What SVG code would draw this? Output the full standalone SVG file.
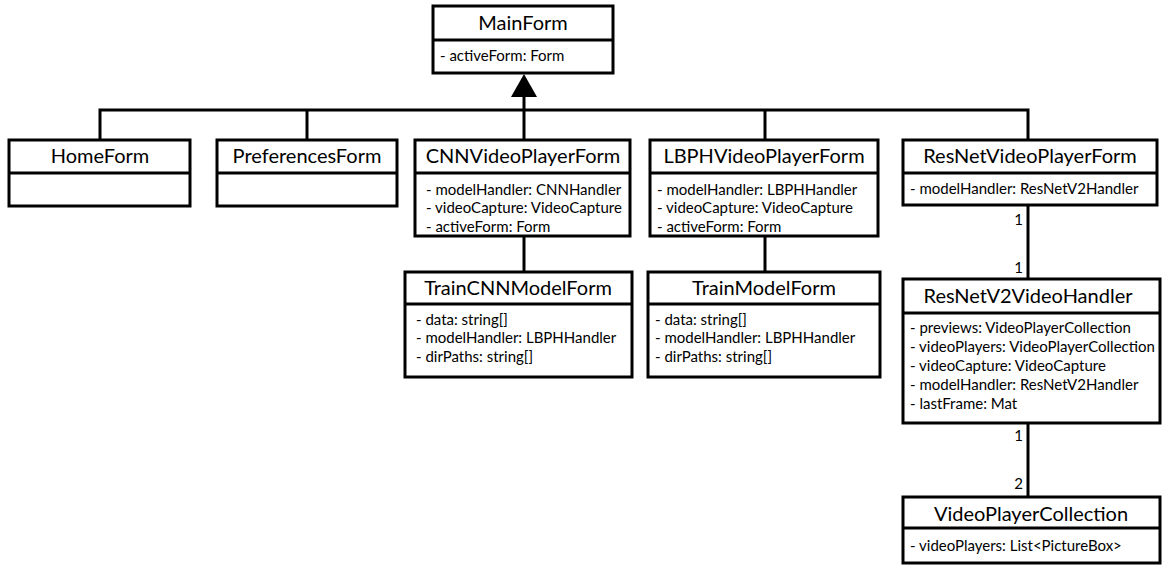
<svg xmlns="http://www.w3.org/2000/svg" width="1174" height="565" viewBox="0 0 1174 565">
<style>
.box{fill:#fff;stroke:#000;stroke-width:3}
.div{stroke:#000;stroke-width:3}
.t{font-family:Lato,"Noto Sans",sans-serif;font-size:20px;text-anchor:middle;fill:#000}
.a{font-family:Lato,"Noto Sans",sans-serif;font-size:15px;fill:#000}
.m{font-family:Lato,"Noto Sans",sans-serif;font-size:15px;text-anchor:end;fill:#000}
.c{stroke:#000;stroke-width:3;fill:none}
</style>
<g id="connectors">
<polyline class="c" points="100,140 100,110 1028,110 1028,140"/>
<line class="c" x1="307" y1="110" x2="307" y2="140"/>
<line class="c" x1="524" y1="96" x2="524" y2="140"/>
<line class="c" x1="765" y1="110" x2="765" y2="140"/>
<polygon points="524,74 511,97 537,97" fill="#000"/>
<line class="c" x1="524" y1="236" x2="524" y2="272"/>
<line class="c" x1="765" y1="236" x2="765" y2="272"/>
<line class="c" x1="1028" y1="205" x2="1028" y2="279"/>
<line class="c" x1="1028" y1="423" x2="1028" y2="497"/>
<text class="m" x="1023" y="225">1</text>
<text class="m" x="1023" y="273">1</text>
<text class="m" x="1023" y="441">1</text>
<text class="m" x="1023" y="489">2</text>
</g>
<g id="MainForm">
<rect class="box" x="433" y="6" width="180" height="67"/>
<line class="div" x1="433" y1="40" x2="613" y2="40"/>
<text class="t" x="523" y="30">MainForm</text>
<text class="a" x="440" y="61">- activeForm: Form</text>
</g>
<g id="HomeForm">
<rect class="box" x="9" y="140" width="181" height="66"/>
<line class="div" x1="9" y1="173" x2="190" y2="173"/>
<text class="t" x="100" y="163">HomeForm</text>
</g>
<g id="PreferencesForm">
<rect class="box" x="217" y="140" width="180" height="66"/>
<line class="div" x1="217" y1="173" x2="397" y2="173"/>
<text class="t" x="307" y="163">PreferencesForm</text>
</g>
<g id="CNNVideoPlayerForm">
<rect class="box" x="415" y="140" width="215" height="96"/>
<line class="div" x1="415" y1="173" x2="630" y2="173"/>
<text class="t" x="523" y="163">CNNVideoPlayerForm</text>
<text class="a" x="426" y="195">- modelHandler: CNNHandler</text>
<text class="a" x="426" y="213">- videoCapture: VideoCapture</text>
<text class="a" x="426" y="232">- activeForm: Form</text>
</g>
<g id="LBPHVideoPlayerForm">
<rect class="box" x="650" y="140" width="228" height="96"/>
<line class="div" x1="650" y1="173" x2="878" y2="173"/>
<text class="t" x="764" y="163">LBPHVideoPlayerForm</text>
<text class="a" x="657" y="195">- modelHandler: LBPHHandler</text>
<text class="a" x="657" y="213">- videoCapture: VideoCapture</text>
<text class="a" x="657" y="232">- activeForm: Form</text>
</g>
<g id="ResNetVideoPlayerForm">
<rect class="box" x="903" y="140" width="254" height="65"/>
<line class="div" x1="903" y1="173" x2="1157" y2="173"/>
<text class="t" x="1030" y="163">ResNetVideoPlayerForm</text>
<text class="a" x="910" y="194">- modelHandler: ResNetV2Handler</text>
</g>
<g id="TrainCNNModelForm">
<rect class="box" x="405" y="272" width="227" height="105"/>
<line class="div" x1="405" y1="304" x2="632" y2="304"/>
<text class="t" x="518" y="295">TrainCNNModelForm</text>
<text class="a" x="416" y="325">- data: string[]</text>
<text class="a" x="416" y="343">- modelHandler: LBPHHandler</text>
<text class="a" x="416" y="362">- dirPaths: string[]</text>
</g>
<g id="TrainModelForm">
<rect class="box" x="648" y="272" width="232" height="105"/>
<line class="div" x1="648" y1="304" x2="880" y2="304"/>
<text class="t" x="764" y="295">TrainModelForm</text>
<text class="a" x="655" y="325">- data: string[]</text>
<text class="a" x="655" y="343">- modelHandler: LBPHHandler</text>
<text class="a" x="655" y="362">- dirPaths: string[]</text>
</g>
<g id="ResNetV2VideoHandler">
<rect class="box" x="903" y="279" width="257" height="144"/>
<line class="div" x1="903" y1="313" x2="1160" y2="313"/>
<text class="t" x="1028" y="303">ResNetV2VideoHandler</text>
<text class="a" x="910" y="333">- previews: VideoPlayerCollection</text>
<text class="a" x="910" y="352">- videoPlayers: VideoPlayerCollection</text>
<text class="a" x="910" y="371">- videoCapture: VideoCapture</text>
<text class="a" x="910" y="390">- modelHandler: ResNetV2Handler</text>
<text class="a" x="910" y="409">- lastFrame: Mat</text>
</g>
<g id="VideoPlayerCollection">
<rect class="box" x="903" y="497" width="257" height="66"/>
<line class="div" x1="903" y1="528" x2="1160" y2="528"/>
<text class="t" x="1031" y="521">VideoPlayerCollection</text>
<text class="a" x="910" y="551">- videoPlayers: List&lt;PictureBox&gt;</text>
</g>
</svg>
